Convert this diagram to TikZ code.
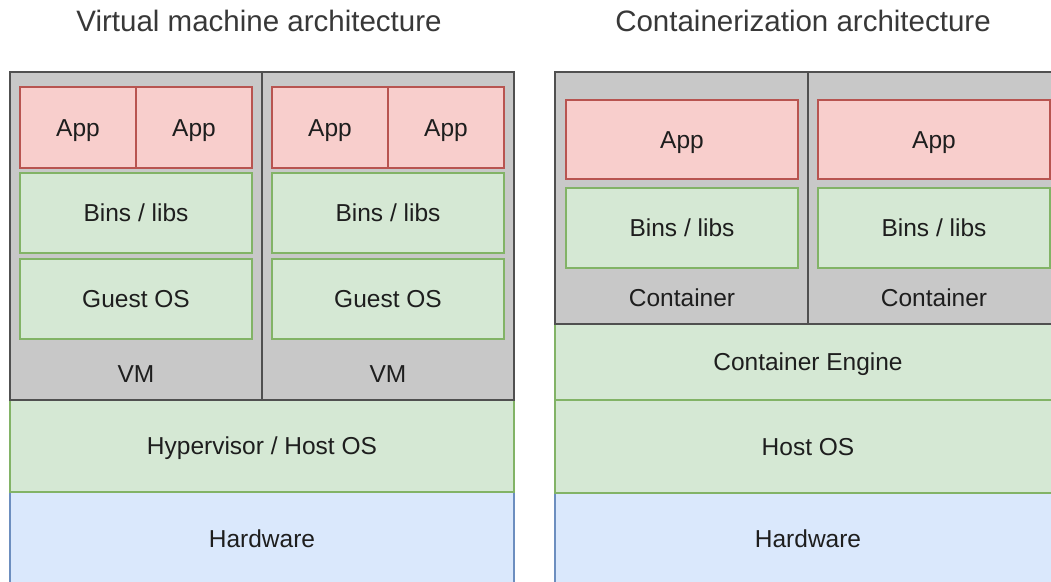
\documentclass[tikz,border=0pt]{standalone}
\usepackage{fontspec}
\setmainfont{Liberation Sans}
\definecolor{greyfill}{RGB}{200,200,200}
\definecolor{greyline}{RGB}{80,80,80}
\definecolor{redfill}{HTML}{F8CECC}
\definecolor{redline}{HTML}{B85450}
\definecolor{greenfill}{HTML}{D5E8D4}
\definecolor{greenline}{HTML}{82B366}
\definecolor{bluefill}{HTML}{DAE8FC}
\definecolor{blueline}{HTML}{6C8EBF}
\definecolor{txt}{RGB}{30,30,30}
\begin{document}
\begin{tikzpicture}[x=1pt,y=-1pt,
  cell/.style={rectangle, inner sep=0pt, outer sep=0pt, anchor=north west, line width=1.5pt, text=txt, font=\fontsize{24.5}{29}\selectfont, text height=17.5pt, text depth=0pt},
  greybox/.style={cell, fill=greyfill, draw=greyline, line width=2pt},
  redbox/.style={cell, fill=redfill, draw=redline},
  greenbox/.style={cell, fill=greenfill, draw=greenline},
  bluebox/.style={cell, fill=bluefill, draw=blueline},
  lbl/.style={inner sep=0pt, text=txt, font=\fontsize{24.5}{29}\selectfont, text height=17.5pt, text depth=0pt},
  ttl/.style={inner sep=0pt, text=black!78, font=\fontsize{29.5}{35}\selectfont, text height=21.1pt, text depth=0pt}
]
\useasboundingbox (0,0) rectangle (1051,581);
\clip (0,0) rectangle (1051,581);
\fill[white] (0,0) rectangle (1051,581);

% titles
\node[ttl] (t1) at (259,21) {Virtual machine architecture};
\node[ttl] (t2) at (803,21) {Containerization architecture};

% ---- Virtual machine architecture ----
\node[bluebox, minimum width=504pt, minimum height=93pt] (hw1) at (10,492) {Hardware};
\node[greenbox, minimum width=504pt, minimum height=92pt] (hyp) at (10,400) {Hypervisor / Host OS};
\node[greybox, minimum width=252pt, minimum height=328pt] (vm1) at (10,72) {};
\node[greybox, minimum width=252pt, minimum height=328pt] (vm2) at (262,72) {};
\node[lbl] (vm1l) at (136,374) {VM};
\node[lbl] (vm2l) at (388,374) {VM};

\node[redbox, minimum width=116pt, minimum height=81pt] (a11) at (20,87) {App};
\node[redbox, minimum width=116pt, minimum height=81pt] (a12) at (136,87) {App};
\node[redbox, minimum width=116pt, minimum height=81pt] (a21) at (272,87) {App};
\node[redbox, minimum width=116pt, minimum height=81pt] (a22) at (388,87) {App};

\node[greenbox, minimum width=232pt, minimum height=80pt] (b1) at (20,173) {Bins / libs};
\node[greenbox, minimum width=232pt, minimum height=80pt] (b2) at (272,173) {Bins / libs};
\node[greenbox, minimum width=232pt, minimum height=80pt] (g1) at (20,259) {Guest OS};
\node[greenbox, minimum width=232pt, minimum height=80pt] (g2) at (272,259) {Guest OS};

% ---- Containerization architecture ----
\node[bluebox, minimum width=506pt, minimum height=92pt] (hw2) at (555,493) {Hardware};
\node[greenbox, minimum width=506pt, minimum height=93pt] (host) at (555,400) {Host OS};
\node[greenbox, minimum width=506pt, minimum height=76pt] (eng) at (555,324) {Container Engine};
\node[greybox, minimum width=253pt, minimum height=252pt] (c1) at (555,72) {};
\node[greybox, minimum width=253pt, minimum height=252pt] (c2) at (808,72) {};
\node[lbl] (c1l) at (682,297.5) {Container};
\node[lbl] (c2l) at (934,297.5) {Container};

\node[redbox, minimum width=232pt, minimum height=79pt] (ca1) at (566,100) {App};
\node[redbox, minimum width=232pt, minimum height=79pt] (ca2) at (818,100) {App};
\node[greenbox, minimum width=232pt, minimum height=80pt] (cb1) at (566,188) {Bins / libs};
\node[greenbox, minimum width=232pt, minimum height=80pt] (cb2) at (818,188) {Bins / libs};
\end{tikzpicture}
\end{document}
